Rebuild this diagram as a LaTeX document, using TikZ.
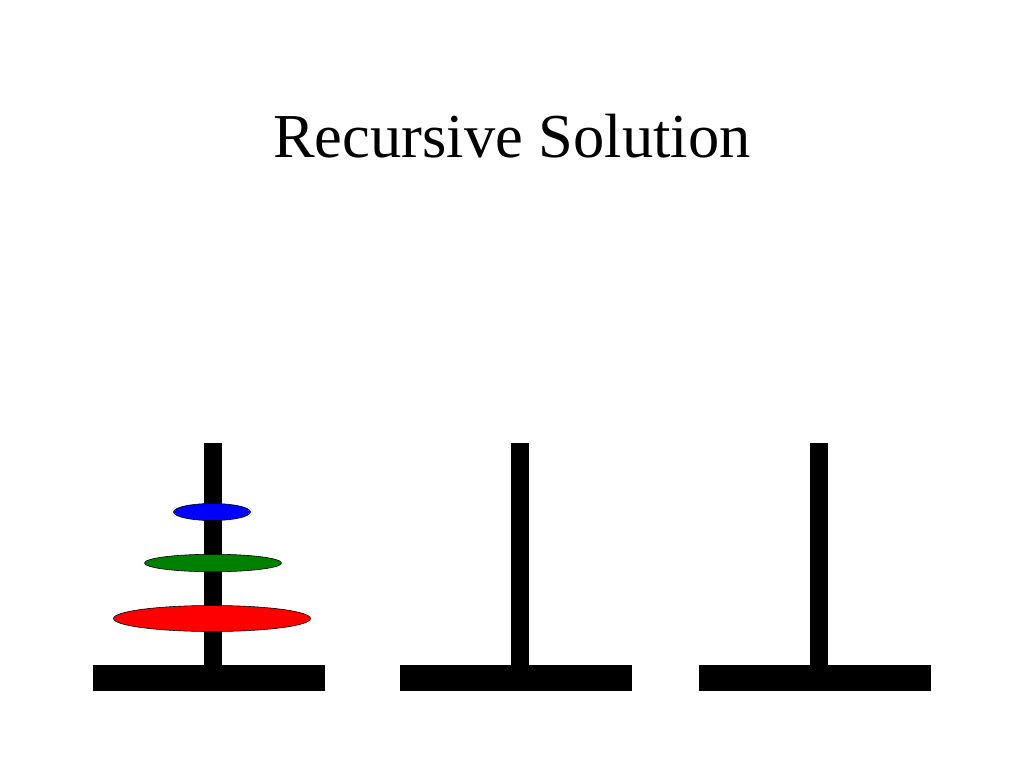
\documentclass[tikz,border=0pt]{standalone}
\usepackage{fontspec}
\setmainfont{Liberation Serif}
\usetikzlibrary{shapes.geometric}

\begin{document}
\begin{tikzpicture}[
        x=1pt, y=-1pt,
        peg/.style={rectangle, fill=black, inner sep=0pt, minimum width=18pt, minimum height=222pt},
        base/.style={rectangle, fill=black, inner sep=0pt, minimum width=232pt, minimum height=26pt},
        disc/.style={ellipse, draw=black, line width=0.6pt, inner sep=0pt},
        title/.style={font=\fontsize{62.5}{75}\selectfont, anchor=base, inner sep=0pt}
    ]
        \useasboundingbox (0,0) rectangle (1024,768);
        \node[title] (heading) at (512,157) {Recursive Solution};

        % three pegs with their bases
        \node[peg] (pegA) at (213,554) {};
        \node[peg] (pegB) at (520,554) {};
        \node[peg] (pegC) at (819,554) {};
        \node[base] (baseA) at (209,678) {};
        \node[base] (baseB) at (516,678) {};
        \node[base] (baseC) at (815,678) {};

        % discs on the first peg
        \node[disc, fill=red, minimum width=197pt, minimum height=26pt] (large) at (212,618.5) {};
        \node[disc, fill={rgb,255:red,0;green,128;blue,0}, minimum width=137pt, minimum height=17.5pt] (medium) at (213,563) {};
        \node[disc, fill=blue, minimum width=77pt, minimum height=17pt] (small) at (212,512) {};
    \end{tikzpicture}
\end{document}
